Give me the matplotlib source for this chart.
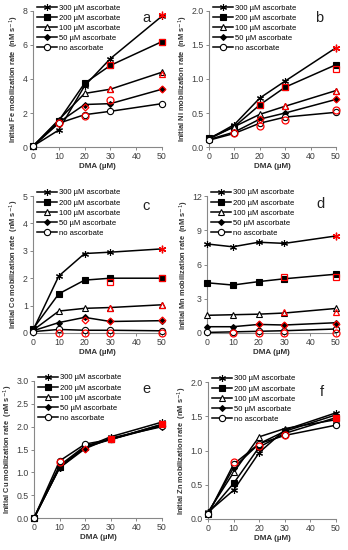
import numpy as np
import matplotlib
matplotlib.use('Agg')
import matplotlib.pyplot as plt

plt.rcParams['font.family'] = ['Liberation Sans', 'DejaVu Sans']

# DMA concentrations (x axis)
dma = [0, 10, 20, 30, 50]
labels = ['300 µM ascorbate', '200 µM ascorbate', '100 µM ascorbate',
          '50 µM ascorbate', 'no ascorbate']
metals = ['Fe', 'Ni', 'Co', 'Mn', 'Cu', 'Zn']
letters = ['a', 'b', 'c', 'd', 'e', 'f']
yticks = [[0, 2, 4, 6, 8], [0.0, 0.5, 1.0, 1.5, 2.0], [0, 1, 2, 3, 4, 5],
          [0, 3, 6, 9, 12], [0.0, 0.5, 1.0, 1.5, 2.0, 2.5, 3.0],
          [0.0, 0.5, 1.0, 1.5, 2.0]]
ytick_fmt = ['%d', '%.1f', '%d', '%d', '%.1f', '%.1f']

nan = np.nan
# measured rates, one list per ascorbate level (300, 200, 100, 50, 0)
fe = [[0.05, 1.0, 3.6, 5.2, 7.7],
      [0.05, 1.55, 3.75, 4.8, 6.2],
      [0.05, 1.6, 3.15, 3.4, 4.4],
      [0.05, 1.45, 2.5, 2.55, 3.4],
      [0.05, 1.4, 1.9, 2.1, 2.55]]
ni = [[0.12, 0.33, 0.72, 0.97, 1.46],
      [0.13, 0.3, 0.62, 0.88, 1.21],
      [0.12, 0.3, 0.48, 0.6, 0.83],
      [0.11, 0.22, 0.41, 0.5, 0.7],
      [0.1, 0.2, 0.35, 0.44, 0.51]]
co = [[0.1, 2.08, 2.9, 2.95, 3.07],
      [0.15, 1.43, 1.93, 2.0, 2.0],
      [0.1, 0.8, 0.9, 0.93, 1.03],
      [0.08, 0.38, 0.57, 0.42, 0.45],
      [0.05, 0.13, 0.1, 0.1, 0.08]]
mn = [[7.8, 7.55, 7.95, 7.85, 8.5],
      [4.4, 4.2, 4.5, 4.75, 5.15],
      [1.55, 1.6, 1.65, 1.75, 2.15],
      [0.55, 0.55, 0.75, 0.7, 0.9],
      [0.05, 0.1, 0.15, 0.2, 0.35]]
cu = [[0.0, 1.1, 1.55, 1.78, 2.1],
      [0.0, 1.12, 1.55, 1.72, 2.05],
      [0.0, 1.15, 1.58, 1.72, 2.05],
      [0.0, 1.1, 1.52, 1.75, 2.0],
      [0.0, 1.25, 1.62, 1.72, 2.02]]
zn = [[0.1, 0.42, 0.97, 1.3, 1.55],
      [0.08, 0.52, 1.05, 1.25, 1.48],
      [0.1, 0.68, 1.2, 1.32, 1.45],
      [0.08, 0.75, 1.1, 1.28, 1.52],
      [0.07, 0.8, 1.1, 1.22, 1.37]]

# red overlay points (model values)
fe_red = [[nan, nan, nan, nan, 7.75],
          [nan, nan, nan, 4.8, 6.2],
          [nan, nan, nan, 3.4, 4.3],
          [nan, nan, 2.35, nan, 3.4],
          [nan, 1.4, 1.85, 2.75, nan]]
ni_red = [[nan, nan, nan, nan, 1.46],
          [nan, nan, 0.62, 0.88, 1.15],
          [nan, nan, nan, 0.6, 0.83],
          [nan, nan, 0.41, nan, 0.7],
          [nan, 0.21, 0.31, 0.39, 0.55]]
co_red = [[nan, nan, nan, nan, 3.05],
          [nan, nan, nan, 1.85, 2.0],
          [nan, nan, nan, 0.93, 1.03],
          [nan, nan, 0.47, 0.43, 0.48],
          [nan, 0.0, 0.0, 0.0, 0.0]]
mn_red = [[nan, nan, nan, nan, 8.5],
          [nan, nan, nan, 4.9, 4.9],
          [nan, nan, nan, 1.8, 1.85],
          [nan, nan, 0.75, 0.7, 0.75],
          [nan, 0.0, 0.0, 0.0, 0.0]]
cu_red = [[nan, nan, nan, nan, nan],
          [nan, nan, nan, 1.72, 2.05],
          [nan, nan, nan, nan, nan],
          [nan, nan, 1.52, nan, nan],
          [nan, 1.22, nan, nan, nan]]
zn_red = [[nan, nan, nan, nan, nan],
          [nan, nan, nan, nan, 1.47],
          [nan, nan, nan, nan, nan],
          [nan, nan, nan, nan, nan],
          [nan, 0.83, 1.06, 1.22, nan]]

data = [fe, ni, co, mn, cu, zn]
red = [fe_red, ni_red, co_red, mn_red, cu_red, zn_red]

markers = [(6, 2, 0), 's', '^', 'D', 'o']
mfc = ['k', 'k', 'white', 'k', 'white']
msize = [5, 4.5, 4.5, 3, 4.5]

fig = plt.figure(figsize=(3.48, 5.5), dpi=100)
W, H = 348.0, 550.0
# pixel boxes: left, right, top, bottom
boxes = [(33, 162, 11, 147), (209, 336, 11, 147),
         (33, 162, 196, 333), (207, 336, 196, 333),
         (34, 162, 381, 518), (208, 336, 382, 519)]
letter_pos = [(0.88, 0.95), (0.87, 0.95), (0.88, 0.93),
              (0.88, 0.94), (0.88, 0.94), (0.89, 0.93)]

for i in range(6):
    l, r, t, b = boxes[i]
    ax = fig.add_axes([l / W, 1 - b / H, (r - l) / W, (b - t) / H])
    for j in range(5):
        ax.plot(dma, data[i][j], color='k', lw=1.1, marker=markers[j],
                mfc=mfc[j], mec='k', ms=msize[j], mew=0.8,
                label=labels[j], clip_on=False, zorder=3)
    for j in range(5):
        face = 'none'
        if i >= 4 and j == 1:
            face = 'red'
        ax.plot(dma, red[i][j], ls='none', marker=markers[j], mfc=face,
                mec='red', ms=msize[j] + 0.5, mew=0.9, clip_on=False,
                zorder=4)
    ax.set_xlim(0, 50)
    ax.set_ylim(yticks[i][0], yticks[i][-1])
    ax.set_xticks([0, 10, 20, 30, 40, 50])
    ax.set_yticks(yticks[i])
    ax.set_yticklabels([ytick_fmt[i] % v for v in yticks[i]])
    for s in ['top', 'right']:
        ax.spines[s].set_visible(False)
    for s in ['left', 'bottom']:
        ax.spines[s].set_color('#888888')
        ax.spines[s].set_linewidth(0.8)
    ax.tick_params(labelsize=6.3, colors='#888888', labelcolor='#404040',
                   length=2.2, width=0.7, pad=1.5)
    ax.set_xlabel('DMA (µM)', fontsize=5.8, fontweight='bold', labelpad=1.5,
                  color='#333333')
    ax.set_ylabel('Initial %s mobilization rate  (nM s$^{-1}$)' % metals[i],
                  fontsize=5.4, fontweight='bold', labelpad=1, color='#333333')
    ax.text(letter_pos[i][0], letter_pos[i][1], letters[i],
            transform=ax.transAxes, fontsize=10.5,
            ha='center', va='center', color='#222222')
    ax.legend(loc='upper left', bbox_to_anchor=(0.03, 1.05), frameon=False,
              fontsize=5.5, handlelength=2.7, labelspacing=0.35,
              borderaxespad=0, handletextpad=0.2, borderpad=0)

fig.savefig('out.png', dpi=100)
